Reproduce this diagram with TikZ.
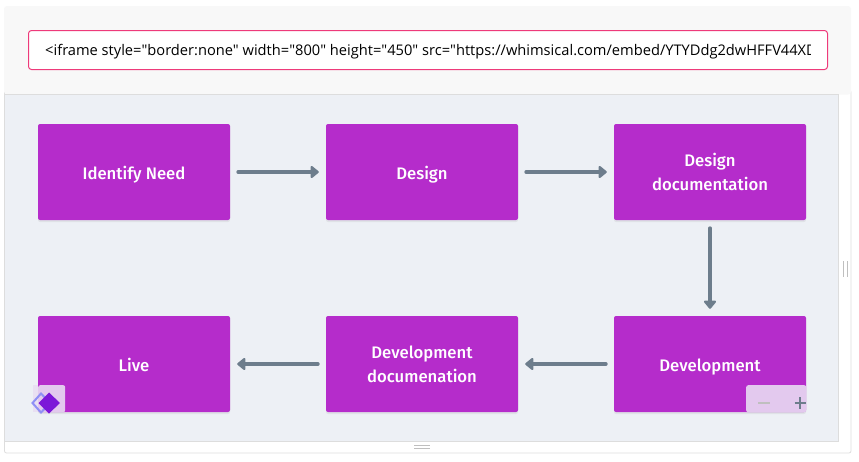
\documentclass[tikz,border=0pt]{standalone}
\usepackage{fontspec}
\setmainfont{Fira Sans Medium}
\newfontfamily\codefont{Open Sans}
\usetikzlibrary{arrows.meta}
\usetikzlibrary{shadows}
\definecolor{stagefill}{HTML}{B52CCB}
\definecolor{flowgrey}{HTML}{6D7D8C}
\definecolor{panelfill}{HTML}{EDF0F5}
\definecolor{panelline}{HTML}{DDDDDD}
\definecolor{topfill}{HTML}{F8F8F8}
\definecolor{inputline}{HTML}{EE3A7A}
\definecolor{overlayfill}{HTML}{E3C9EE}
\definecolor{logofill}{HTML}{7C17D8}
\definecolor{logoline}{HTML}{8F8FF5}
\begin{document}
\begin{tikzpicture}[x=1pt,y=-1pt]
\tikzstyle{stage}=[rectangle,fill=stagefill,rounded corners=2pt,text=white,
inner sep=0pt,minimum width=192pt,minimum height=96pt,align=center,
font=\fontsize{16.7}{24}\selectfont,
drop shadow={opacity=.12,shadow xshift=0pt,shadow yshift=-2pt}]
\tikzstyle{oneline}=[text height=14pt,text depth=0pt]
\tikzstyle{twoline}=[execute at begin node={\rule{0pt}{14.5pt}}]
\tikzstyle{flow}=[draw=flowgrey,line width=3.8pt,line cap=round,shorten <=8pt,shorten >=7pt,
-{Triangle[length=9pt,width=14pt,round=false]}]
\tikzstyle{overlay}=[rectangle,fill=overlayfill,inner sep=0pt]
\tikzstyle{grip}=[draw=black!25,line width=1.2pt]
\useasboundingbox (0,0) rectangle (859,461);
\fill[white] (0,0) rectangle (859,461);
% frame and embed code bar
\draw[panelline,fill=white,rounded corners=2pt,line width=.8pt] (4.5,90) rectangle (851,453);
\fill[topfill,rounded corners=3pt] (4,6) rectangle (851,94.5);
\draw[panelline,fill=panelfill,line width=1pt] (4.5,94.5) rectangle (838,441.5);
\node[draw=inputline,fill=white,line width=1pt,rounded corners=3pt,minimum width=799pt,minimum height=39pt,
inner sep=0pt,outer sep=0pt,anchor=north west] (codebox) at (28.5,30.5) {};
\begin{scope}
\clip (45,32) rectangle (810.5,68);
\node[anchor=base west,inner sep=0pt,font=\codefont\fontsize{14.65}{16}\selectfont] (codetext) at (45,55.5)
{<iframe style="border:none" width="800" height="450" src="https://whimsical.com/embed/YTYDdg2dwHFFV44XD};
\end{scope}
% stages
\node[stage,oneline] (need) at (134,172) {Identify Need};
\node[stage,oneline] (design) [right of=need,node distance=288pt] {Design};
\node[stage,twoline] (designdoc) [right of=design,node distance=288pt] {Design\\documentation};
\node[stage,oneline] (dev) [below of=designdoc,node distance=192pt] {Development};
\node[stage,twoline] (devdoc) [left of=dev,node distance=288pt] {Development\\documenation};
\node[stage,oneline] (live) [left of=devdoc,node distance=288pt] {Live};
\draw[flow] (need) -- (design);
\draw[flow] (design) -- (designdoc);
\draw[flow] (designdoc) -- (dev);
\draw[flow] (dev) -- (devdoc);
\draw[flow] (devdoc) -- (live);
% widgets on top of the chart
\node[overlay,minimum width=60pt,minimum height=27pt,anchor=north west,
rounded corners=2pt] (zoomctl) at (746,385) {};
\draw[black!25,line width=1.4pt] (758,403) -- (770,403);
\draw[flowgrey,line width=1.6pt] (794.5,403) -- (806,403) (800,397) -- (800,409);
\fill[panelfill!60!overlayfill] (33,385) rectangle (38,412);
\node[overlay,minimum width=27pt,minimum height=27pt,anchor=north west,
rounded corners=2pt] (logoctl) at (38,385) {};
\draw[logoline,line width=2pt] (41,393.5) -- (50,403) -- (41,412.5) -- (32.5,403) -- cycle;
\fill[logofill] (49,392.5) -- (60,403) -- (49,413.5) -- (38.5,403) -- cycle;
% resize grips
\draw[grip] (843.5,261) -- (843.5,277) (847.5,261) -- (847.5,277);
\draw[grip] (414,445.5) -- (430,445.5) (414,448.5) -- (430,448.5);
\end{tikzpicture}
\end{document}
